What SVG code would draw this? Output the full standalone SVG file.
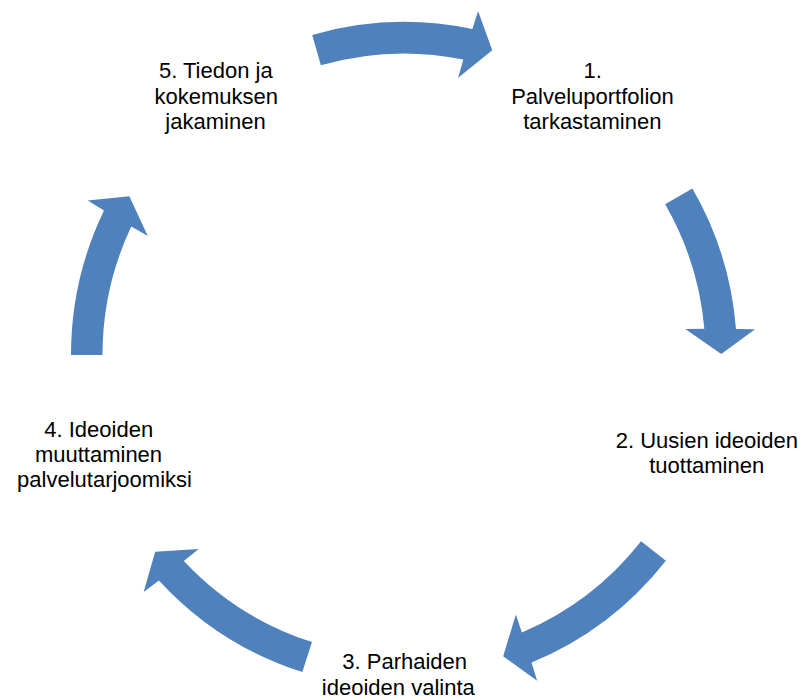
<svg xmlns="http://www.w3.org/2000/svg" width="802" height="698" viewBox="0 0 802 698">
  <style>
    .arrow { fill: #4F81BD; stroke: none; }
    .label { font-family: "Liberation Sans", Arial, sans-serif; font-size: 22px; fill: #000000; text-anchor: middle; }
  </style>
  <rect width="802" height="698" fill="#FFFFFF"/>

  <!-- Curved block arrows on a ring centred at (404,355) -->
  <g id="connectors">
    <path class="arrow" d="M312.21,34.90 A333,333 0 0 1 472.38,29.10 L478.09,10.88 L492.24,50.27 L458.15,77.74 L463.34,59.40 A301.5,301.5 0 0 0 320.90,65.18 Z"/>
    <path class="arrow" d="M692.39,188.50 A333,333 0 0 1 735.98,328.99 L755.06,329.34 L721.25,354.00 L685.30,329.00 L704.36,328.83 A301.5,301.5 0 0 0 665.11,204.25 Z"/>
    <path class="arrow" d="M665.85,560.74 A333,333 0 0 1 531.53,662.61 L537.11,680.86 L503.19,656.35 L515.83,614.42 L521.90,632.49 A301.5,301.5 0 0 0 641.08,541.28 Z"/>
    <path class="arrow" d="M302.36,672.11 A333,333 0 0 1 158.88,580.40 L143.65,591.90 L155.15,551.77 L198.74,549.10 L183.86,561.01 A301.5,301.5 0 0 0 311.98,642.11 Z"/>
    <path class="arrow" d="M71.00,355.00 A333,333 0 0 1 104.00,210.48 L87.68,200.58 L129.31,196.28 L147.80,235.97 L131.24,226.53 A301.5,301.5 0 0 0 102.50,355.00 Z"/>
  </g>

  <g id="node1">
    <text class="label" x="592.6" y="77.7">1.</text>
    <text class="label" x="592.5" y="104.3">Palveluportfolion</text>
    <text class="label" x="592.3" y="129">tarkastaminen</text>
  </g>

  <g id="node2">
    <text class="label" x="706.8" y="448.3">2. Uusien ideoiden</text>
    <text class="label" x="706.7" y="473.3">tuottaminen</text>
  </g>

  <g id="node3">
    <text class="label" x="404.7" y="669.3">3. Parhaiden</text>
    <text class="label" x="398.3" y="695">ideoiden valinta</text>
  </g>

  <g id="node4">
    <text class="label" x="98.7" y="436.7">4. Ideoiden</text>
    <text class="label" x="98.5" y="461.7">muuttaminen</text>
    <text class="label" x="104.5" y="486.7">palvelutarjoomiksi</text>
  </g>

  <g id="node5">
    <text class="label" x="215.8" y="77.7">5. Tiedon ja</text>
    <text class="label" x="216.3" y="104.3">kokemuksen</text>
    <text class="label" x="215.5" y="129">jakaminen</text>
  </g>
</svg>
